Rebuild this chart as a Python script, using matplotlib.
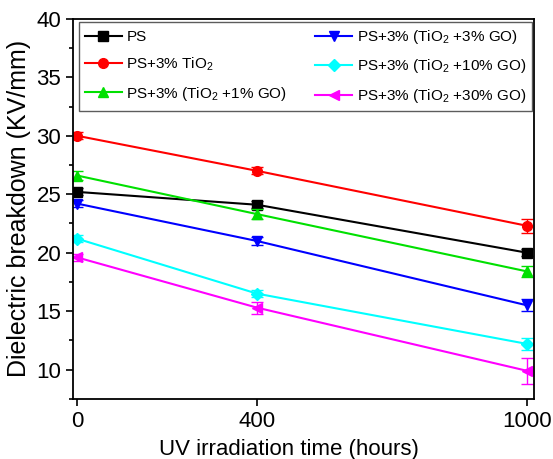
import matplotlib
matplotlib.use("Agg")
import matplotlib.pyplot as plt
from matplotlib.ticker import MultipleLocator

plt.rcParams['font.family'] = ['Liberation Sans', 'DejaVu Sans']
plt.rcParams['mathtext.fontset'] = 'custom'
plt.rcParams['mathtext.rm'] = 'Liberation Sans'

# UV irradiation time (hours)
hours = [0, 400, 1000]

# dielectric breakdown (KV/mm) and error bars
ps = [25.2, 24.1, 20.0]
ps_err = [0.3, 0.3, 0.3]
tio2 = [30.0, 27.0, 22.3]
tio2_err = [0.3, 0.3, 0.6]
go1 = [26.6, 23.3, 18.4]
go1_err = [0.4, 0.4, 0.5]
go3 = [24.2, 21.0, 15.5]
go3_err = [0.3, 0.3, 0.5]
go10 = [21.2, 16.5, 12.2]
go10_err = [0.3, 0.3, 0.5]
go30 = [19.6, 15.3, 9.9]
go30_err = [0.3, 0.5, 1.1]

series = [
    ('PS', ps, ps_err, 'black', 's'),
    ('PS+3% TiO$_2$', tio2, tio2_err, 'red', 'o'),
    ('PS+3% (TiO$_2$ +1% GO)', go1, go1_err, '#00e000', '^'),
    ('PS+3% (TiO$_2$ +3% GO)', go3, go3_err, 'blue', 'v'),
    ('PS+3% (TiO$_2$ +10% GO)', go10, go10_err, 'cyan', 'D'),
    ('PS+3% (TiO$_2$ +30% GO)', go30, go30_err, 'magenta', '<'),
]

fig = plt.figure(figsize=(5.53, 4.59), dpi=100)
ax = fig.add_axes([0.132, 0.131, 0.834, 0.828])

for label, y, err, col, mk in series:
    ms = 6 if mk == 'D' else 7
    # error bars without legend entry, line + marker for the legend
    ax.errorbar(hours, y, yerr=err, color=col, fmt='none', elinewidth=1, capsize=4)
    ax.plot(hours, y, color=col, marker=mk, markersize=ms, linewidth=1.5, label=label)

ax.set_xlim(-9, 1016)
ax.set_ylim(7.5, 40)
ax.set_xticks(hours)
ax.yaxis.set_major_locator(MultipleLocator(5))
ax.yaxis.set_minor_locator(MultipleLocator(2.5))
ax.tick_params(axis='both', which='major', direction='out', length=5, width=1.2, labelsize=16)
ax.tick_params(axis='y', which='minor', direction='out', length=3, width=1.2)
for s in ax.spines.values():
    s.set_linewidth(1.3)

ax.set_xlabel('UV irradiation time (hours)', fontsize=16)
ax.xaxis.set_label_coords(0.469, -0.105)
ax.set_ylabel('Dielectric breakdown (KV/mm)', fontsize=18)

leg = ax.legend(loc='upper left', ncol=2, fontsize=11, frameon=True,
                bbox_to_anchor=(0.013, 0.766, 0.983, 0.226), mode='expand',
                fancybox=False, edgecolor='#333333', borderaxespad=0,
                handlelength=2.4, handletextpad=0.3, labelspacing=0.75)
leg.get_frame().set_linewidth(1.0)

fig.savefig('out.png', dpi=100)
